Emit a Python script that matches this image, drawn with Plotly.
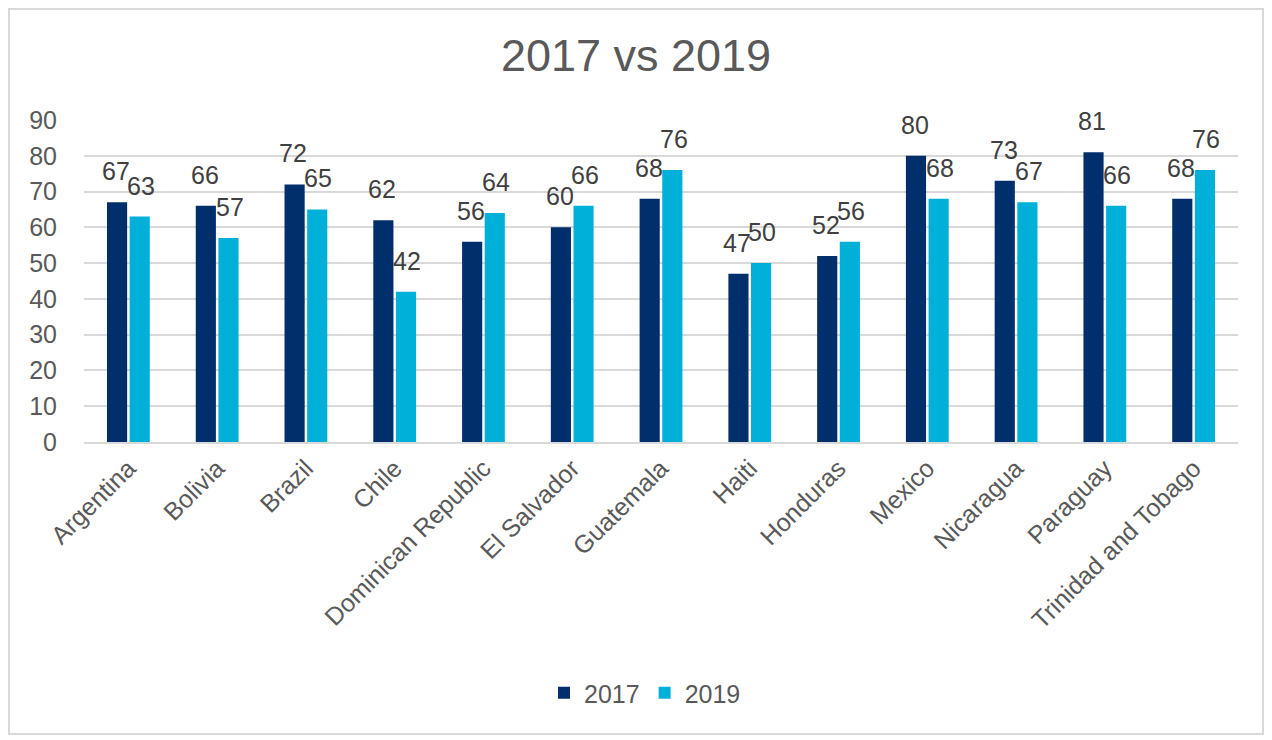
import plotly.graph_objects as go

countries = ["Argentina", "Bolivia", "Brazil", "Chile", "Dominican Republic", "El Salvador",
             "Guatemala", "Haiti", "Honduras", "Mexico", "Nicaragua", "Paraguay",
             "Trinidad and Tobago"]
values_2017 = [67, 66, 72, 62, 56, 60, 68, 47, 52, 80, 73, 81, 68]
values_2019 = [63, 57, 65, 42, 64, 66, 76, 50, 56, 68, 67, 66, 76]
y_ticks = [0, 10, 20, 30, 40, 50, 60, 70, 80, 90]

FONT = "Liberation Sans, Arial, sans-serif"
# page has an 8px body margin; figure sized to sit inside the window
W, H = 1256, 727
ML, MR, MT, MB = 76, 26, 112, 293
pw, ph = W - ML - MR, H - MT - MB

fig = go.Figure()
series = [("2017", values_2017, "#002f6c", -12.5), ("2019", values_2019, "#00b0d8", 12.5)]
annotations = []
for name, vals, color, dx in series:
    fig.add_trace(go.Bar(
        name=name, x=countries, y=vals, marker=dict(color=color, line=dict(width=0)),
        cliponaxis=False,
    ))
    for c, v in zip(countries, vals):
        annotations.append(dict(
            x=c, y=v, xref="x", yref="y", text=str(v), showarrow=False,
            xshift=dx, yshift=31, yanchor="middle", xanchor="center",
            font=dict(family=FONT, size=25, color="#404040"),
        ))

def px_x(p):
    return (p - ML) / pw

def px_y(p):
    return (H - MB - p) / ph

fig.update_layout(
    width=W, height=H,
    margin=dict(l=ML, r=MR, t=MT, b=MB),
    paper_bgcolor="white", plot_bgcolor="white",
    barmode="group", bargap=0.49, bargroupgap=0.11,
    font=dict(family=FONT, color="#595959", size=25),
    title=dict(text="2017 vs 2019", x=0.5, xanchor="center", y=1 - 47 / H, yanchor="middle",
               font=dict(size=45, color="#595959")),
    legend=dict(orientation="h", x=px_x(637), xanchor="center", y=px_y(685), yanchor="middle",
                font=dict(size=25, color="#595959"), traceorder="normal"),
    xaxis=dict(tickangle=-45, showgrid=False, showline=True, linecolor="#d9d9d9", linewidth=1.5,
               ticks="", tickfont=dict(size=25, color="#595959")),
    yaxis=dict(range=[0, 90], tickvals=y_ticks, showgrid=True, gridcolor="#d9d9d9", gridwidth=1.5,
               zeroline=False, showline=False, ticks="", tickfont=dict(size=25, color="#595959"),
               ticklabelstandoff=26),
    annotations=annotations,
    shapes=[dict(type="rect", xref="paper", yref="paper",
                 x0=px_x(1), x1=px_x(W - 1), y0=px_y(H - 1), y1=px_y(1),
                 line=dict(color="#d9d9d9", width=2), fillcolor="rgba(0,0,0,0)", layer="below")],
)

fig.write_html("out.html")
